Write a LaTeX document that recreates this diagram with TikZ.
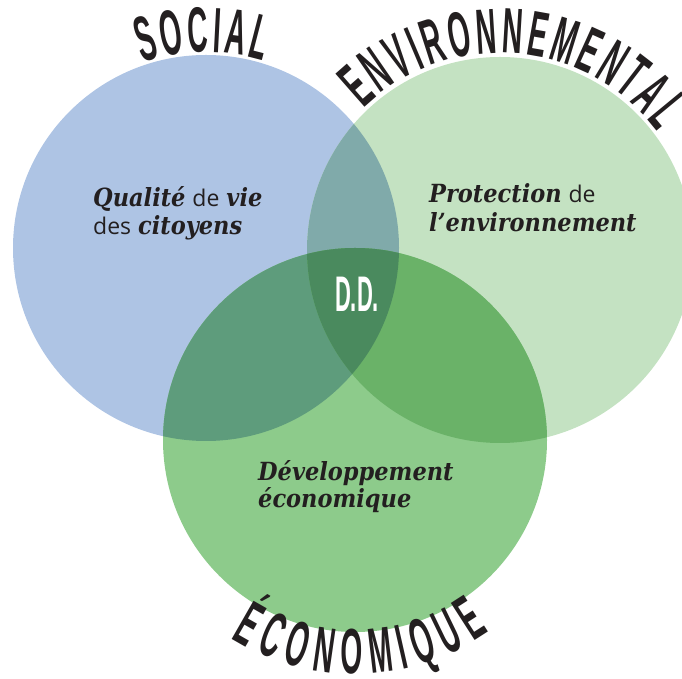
\documentclass[tikz,border=0pt]{standalone}
\usepackage{fontspec}
\usepackage{tikz}
\usetikzlibrary{decorations.text,positioning}
\setmainfont{Liberation Sans}
\newfontfamily\headfont{Liberation Sans}[FakeStretch=0.44]
\newfontfamily\slabfont{DejaVu Serif}[FakeStretch=0.9]
\newfontfamily\lightfont{Open Sans}
\definecolor{ink}{HTML}{231F20}
\definecolor{socblue}{HTML}{AEC4E4}
\definecolor{envgreen}{HTML}{C4E2C2}
\definecolor{ecogreen}{HTML}{8DCB8B}
\definecolor{socenv}{HTML}{80AAAA}
\definecolor{soceco}{HTML}{5E9C7C}
\definecolor{enveco}{HTML}{6AB268}
\definecolor{ddgreen}{HTML}{4A8A5E}
\newcommand{\titre}{\headfont\bfseries\fontsize{64}{64}\selectfont}
\newcommand{\motfort}[1]{{\slabfont\bfseries\itshape #1}}
\newcommand{\motfin}[1]{{\lightfont\fontsize{23}{23}\selectfont #1}}
\tikzstyle{phrase}=[anchor=base west,inner sep=0pt,text=ink,font=\fontsize{25}{25}\selectfont]
\tikzstyle{arctitle}=[decorate,decoration={text along path,text color=ink,text align={fit to path}}]

\begin{document}
\begin{tikzpicture}[x=1pt,y=1pt]
      \useasboundingbox (0,0) rectangle (682,679);
      \clip (0,0) rectangle (682,679);
      \coordinate (soc) at (206,431);
      \coordinate (env) at (500,429);
      \coordinate (eco) at (355,239);
      \fill[socblue] (soc) circle[radius=193];
      \fill[envgreen] (env) circle[radius=193];
      \fill[ecogreen] (eco) circle[radius=192];
      \begin{scope}
        \clip (soc) circle[radius=193];
        \fill[socenv] (env) circle[radius=193];
        \fill[soceco] (eco) circle[radius=192];
      \end{scope}
      \begin{scope}
        \clip (env) circle[radius=193];
        \fill[enveco] (eco) circle[radius=192];
      \end{scope}
      \begin{scope}
        \clip (soc) circle[radius=193];
        \clip (env) circle[radius=193];
        \fill[ddgreen] (eco) circle[radius=192];
      \end{scope}
      \path[arctitle,decoration={text={|\titre|SOCIAL}}] ([shift={(109:196)}]soc) arc[start angle=109,end angle=73,radius=196];
      \path[arctitle,decoration={text={|\titre|ENVIRONNEMENTAL}}] ([shift={(134:197)}]env) arc[start angle=134,end angle=37,radius=197];
      \path[arctitle,decoration={text={|\titre|ÉCONOMIQUE}}] ([shift={(238:234)}]eco) arc[start angle=238,end angle=305,radius=234];
      \node[phrase] at (93,472) (qual1) {\motfort{Qualité} \motfin{de} \motfort{vie}};
      \node[phrase] at (93,444) (qual2) {\motfin{des} \motfort{citoyens}};
      \node[phrase] at (429,476) (prot1) {\motfort{Protection} \motfin{de}};
      \node[phrase] at (429,447) (prot2) {\motfort{l’environnement}};
      \node[phrase] at (258,198) (dev1) {\motfort{Développement}};
      \node[phrase] at (258,171) (dev2) {\motfort{économique}};
      \node[text=white,inner sep=0pt,font=\headfont\bfseries\fontsize{50}{50}\selectfont] at (357,385) (dd) {D.D.};
\end{tikzpicture}
\end{document}
